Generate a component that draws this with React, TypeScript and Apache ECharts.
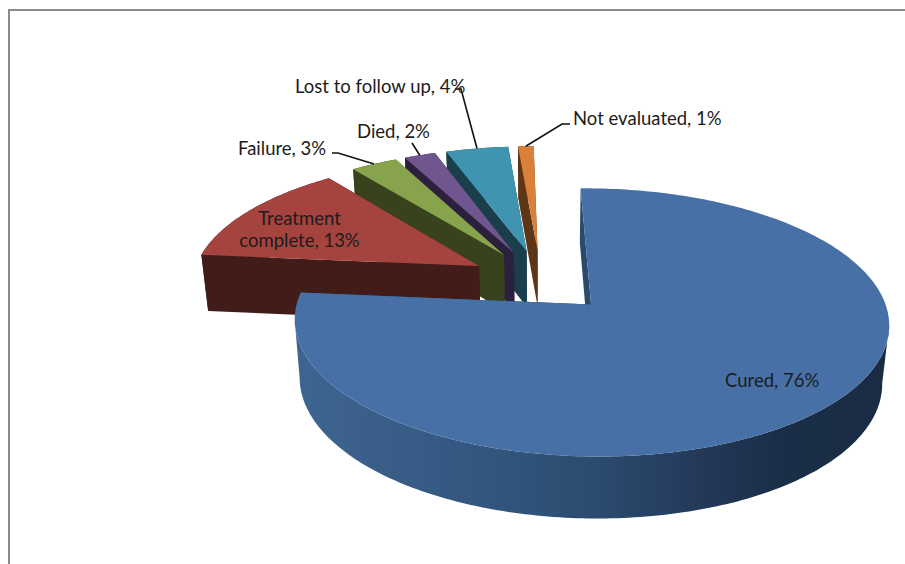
import React, { useEffect, useRef } from "react";
import * as echarts from "echarts";

// Treatment outcomes, percent of patients
const categories = ["Cured", "Treatment complete", "Failure", "Died", "Lost to follow up", "Not evaluated"];
const outcomeValues = [76, 13, 3, 2, 4, 1];
const topColors = ["#4670A6", "#A5433F", "#87A34C", "#70568F", "#3F95AF", "#D9803B"];
const wallColors = ["#2A4A6D", "#421C18", "#38431D", "#2C213C", "#1A3E4C", "#5C3616"];

// Perspective camera used to flatten the pie onto the page
const view = { cx: 541, cy: 281, rx: 287.5, ry: 125.5, persp: 0.13, depth: 57, floorShrink: 0.98 };
const explode = 0.25;
const startDeg = -1;

const total = outcomeValues.reduce((a, b) => a + b, 0);

type Pt = [number, number];

function project(u: number, v: number, floor: boolean): Pt {
  const s = 1 / (1 + view.persp * v);
  const sx = floor ? view.floorShrink : 1;
  return [view.cx + view.rx * u * s * sx, view.cy - view.ry * v * s + (floor ? view.depth * Math.sqrt(s) : 0)];
}

// Start and end of a slice, in degrees clockwise from twelve o'clock
function sliceAngles(index: number): [number, number] {
  const before = outcomeValues.slice(0, index).reduce((a, b) => a + b, 0);
  return [startDeg + (before / total) * 360, startDeg + ((before + outcomeValues[index]) / total) * 360];
}

function sliceGeometry(index: number) {
  const [a0, a1] = sliceAngles(index);
  const mid = (((a0 + a1) / 2) * Math.PI) / 180;
  const ou = explode * Math.sin(mid);
  const ov = explode * Math.cos(mid);
  const rim: Array<[number, number]> = [];
  const steps = Math.max(4, Math.ceil(a1 - a0));
  for (let i = 0; i <= steps; i++) {
    const t = ((a0 + ((a1 - a0) * i) / steps) * Math.PI) / 180;
    rim.push([ou + Math.sin(t), ov + Math.cos(t)]);
  }
  return { apex: [ou, ov] as [number, number], rim, mid: [ou + Math.sin(mid), ov + Math.cos(mid)] as [number, number] };
}

function wall(a: [number, number], b: [number, number]): Pt[] {
  return [project(a[0], a[1], false), project(b[0], b[1], false), project(b[0], b[1], true), project(a[0], a[1], true)];
}

const cylinderShade = new echarts.graphic.LinearGradient(0, 0, 1, 0, [
  { offset: 0, color: "#3E6591" },
  { offset: 0.3, color: "#33577F" },
  { offset: 0.5, color: "#2B4C70" },
  { offset: 0.68, color: "#24395A" },
  { offset: 0.82, color: "#1A2E47" },
  { offset: 1, color: "#1A2C44" },
]);

function renderSlice(_params: any, api: any) {
  const index = api.value(0) as number;
  const { apex, rim } = sliceGeometry(index);
  const wallFill = wallColors[index];
  const top = project(apex[0], apex[1], false);
  const rimTop = rim.map((p) => project(p[0], p[1], false));
  const rimFloor = rim.map((p) => project(p[0], p[1], true));

  // The curved wall runs between the rim's silhouette points only; going past
  // them folds the ribbon over itself and punches a hole in the fill.
  const xs = rimTop.map((p) => p[0]);
  const iLeft = xs.indexOf(Math.min(...xs));
  const iRight = xs.indexOf(Math.max(...xs));
  const from = Math.min(iLeft, iRight);
  const to = Math.max(iLeft, iRight) + 1;

  const children: any[] = [
    { type: "polygon", shape: { points: wall(apex, rim[0]) }, style: { fill: wallFill } },
    { type: "polygon", shape: { points: wall(apex, rim[rim.length - 1]) }, style: { fill: wallFill } },
    {
      type: "polygon",
      shape: { points: [...rimTop.slice(from, to), ...rimFloor.slice(from, to).reverse()] },
      style: { fill: index === 0 ? cylinderShade : wallFill },
    },
    { type: "polygon", shape: { points: [top, ...rimTop] }, style: { fill: topColors[index] } },
  ];
  return { type: "group", children };
}

// Label placement, with the elbow of the leader line where there is one
const labelFont = "Lato";
const labelSize = 18.5;
const placedLabels = [
  { category: "Cured", text: "Cured, 76%", x: 725, y: 380, align: "left" },
  { category: "Treatment complete", text: "Treatment\ncomplete, 13%", x: 299.5, y: 229, align: "center" },
  { category: "Failure", text: "Failure, 3%", x: 238, y: 148, align: "left", elbow: [[332, 153], [338, 153]] },
  { category: "Died", text: "Died, 2%", x: 357, y: 131, align: "left", elbow: [[412, 143]] },
  { category: "Lost to follow up", text: "Lost to follow up, 4%", x: 295, y: 86, align: "left", elbow: [[455, 89], [461, 89]] },
  { category: "Not evaluated", text: "Not evaluated, 1%", x: 573, y: 118, align: "left", elbow: [[570, 124], [562, 124]] },
];

export default function App() {
  const ref = useRef<HTMLDivElement>(null);
  useEffect(() => {
    document.body.style.margin = "0";
    const chart = echarts.init(ref.current!, undefined, { renderer: "svg" });
    const drawOrder = categories.map((_, i) => categories.length - 1 - i);

    const leaders = placedLabels
      .filter((l) => l.elbow)
      .map((l) => {
        const g = sliceGeometry(categories.indexOf(l.category));
        const end = project(g.mid[0], g.mid[1], false);
        return {
          type: "polyline",
          z: 50,
          shape: { points: [...(l.elbow as Pt[]), end] },
          style: { stroke: "#111111", lineWidth: 1.6, fill: "none" },
        };
      });

    const texts = placedLabels.map((l) => ({
      type: "text",
      z: 60,
      x: l.x,
      y: l.y,
      style: {
        text: l.text,
        font: `${labelSize}px ${labelFont}`,
        fill: "#1c1c1c",
        textAlign: l.align,
        textVerticalAlign: "middle",
        lineHeight: 22,
      },
    }));

    chart.setOption({
      animation: false,
      backgroundColor: "#ffffff",
      graphic: {
        elements: [
          {
            type: "polyline",
            z: 40,
            shape: { points: [[9, 564], [9, 10], [905, 10]] },
            style: { stroke: "#8a8a8a", lineWidth: 2, fill: "none" },
          },
          ...leaders,
          ...texts,
        ],
      },
      series: [
        {
          type: "custom",
          coordinateSystem: "none",
          renderItem: renderSlice,
          data: drawOrder.map((i) => [i, outcomeValues[i], categories[i]]),
          silent: true,
        },
      ],
    });
    return () => chart.dispose();
  }, []);
  return <div ref={ref} style={{ position: "fixed", left: 0, top: 0, width: 905, height: 564 }} />;
}
